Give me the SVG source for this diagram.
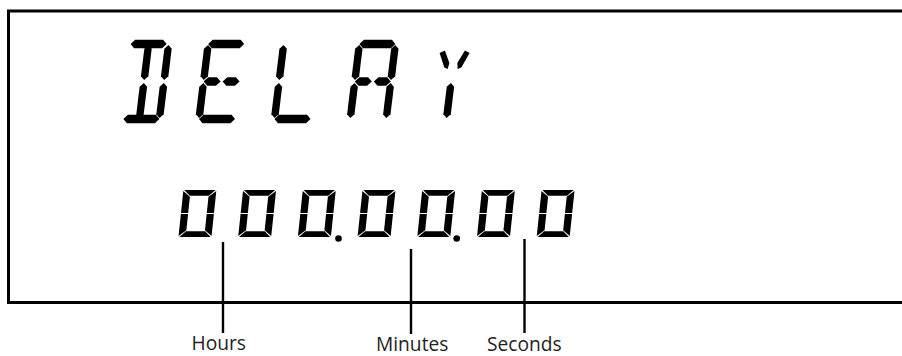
<svg xmlns="http://www.w3.org/2000/svg" width="902" height="356" viewBox="0 0 902 356">
<style>
.frame{fill:none;stroke:#000;stroke-width:3}
.seg{fill:#000}
.lead{stroke:#000;stroke-width:2.4;fill:none}
.lbl{font-family:"Open Sans","Liberation Sans",sans-serif;font-size:19.2px;fill:#222}
</style>
<defs>
<polygon id="h" points="-18,0 -14,-4.2 14,-4.2 18,0 14,4.2 -14,4.2"/>
<polygon id="hm" points="-8.5,0 -4.3,-4.2 4.3,-4.2 8.5,0 4.3,4.2 -4.3,4.2"/>
<polygon id="v" points="0,-17.5 3.7,-13.8 3.7,13.8 0,17.5 -3.7,13.8 -3.7,-13.8"/>
<g id="zero">
<polygon points="0.9,0 32.1,0 26,5.8 7,5.8"/>
<polygon points="0.9,47 32.1,47 26,41.2 7,41.2"/>
<polygon points="0,0.9 7.2,6.7 7.2,23 0,23"/>
<polygon points="0,24 7.2,24 7.2,40.3 0,46.1"/>
<polygon points="33,0.9 25.8,6.7 25.8,23 33,23"/>
<polygon points="33,24 25.8,24 25.8,40.3 33,46.1"/>
</g>
</defs>

<g id="frame">
<polyline class="frame" points="904,11 8.5,11 8.5,302.5 904,302.5"/>
</g>

<g id="delay" class="seg">
<g id="char-D" transform="translate(129.1,40) skewX(-7)">
<use href="#h" x="20" y="4"/>
<use href="#h" x="22" y="79"/>
<use href="#v" x="40" y="22.5"/>
<use href="#v" x="40" y="60.5"/>
<use href="#v" x="20" y="22.5"/>
<use href="#v" x="20" y="60.5"/>
</g>
<g id="char-E" transform="translate(204.7,40) skewX(-7)">
<use href="#h" x="22" y="4"/>
<use href="#h" x="22" y="79"/>
<use href="#v" x="4" y="22.5"/>
<use href="#v" x="4" y="60.5"/>
<use href="#hm" x="12.5" y="41.5"/>
<use href="#hm" x="31.5" y="41.5"/>
</g>
<g id="char-L" transform="translate(280.2,40) skewX(-7)">
<use href="#v" x="4" y="22.5"/>
<use href="#v" x="4" y="60.5"/>
<use href="#h" x="22" y="79"/>
</g>
<g id="char-A" transform="translate(355.9,40) skewX(-7)">
<use href="#h" x="22" y="4"/>
<use href="#v" x="4" y="22.5"/>
<use href="#v" x="4" y="60.5"/>
<use href="#v" x="40" y="22.5"/>
<use href="#v" x="40" y="60.5"/>
<use href="#hm" x="12.5" y="41.5"/>
<use href="#hm" x="31.5" y="41.5"/>
</g>
<g id="char-Y" transform="translate(434.2,40) skewX(-7)">
<polygon points="7,13 12,10.5 18,23 17,29 13.5,27.5"/>
<polygon points="37,13 32,10.5 26,23 27,29 30.5,27.5"/>
<use href="#v" x="22" y="60.5"/>
</g>
</g>

<g id="time" class="seg">
<use href="#zero" transform="translate(183.4,190) skewX(-6)"/>
<use href="#zero" transform="translate(243.1,190) skewX(-6)"/>
<use href="#zero" transform="translate(302.8,190) skewX(-6)"/>
<use href="#zero" transform="translate(362.5,190) skewX(-6)"/>
<use href="#zero" transform="translate(422.2,190) skewX(-6)"/>
<use href="#zero" transform="translate(481.9,190) skewX(-6)"/>
<use href="#zero" transform="translate(541.6,190) skewX(-6)"/>
<circle cx="338.5" cy="238.5" r="3.3"/>
<circle cx="456.7" cy="238.5" r="3.3"/>
</g>

<g id="connectors">
<line class="lead" x1="223" y1="242" x2="223" y2="333"/>
<line class="lead" x1="411" y1="249" x2="411" y2="334"/>
<line class="lead" x1="524.5" y1="239" x2="524.5" y2="333"/>
</g>

<g id="label-hours"><text class="lbl" x="191.5" y="350">Hours</text></g>
<g id="label-minutes"><text class="lbl" x="376" y="351">Minutes</text></g>
<g id="label-seconds"><text class="lbl" x="487" y="350.5">Seconds</text></g>
</svg>
